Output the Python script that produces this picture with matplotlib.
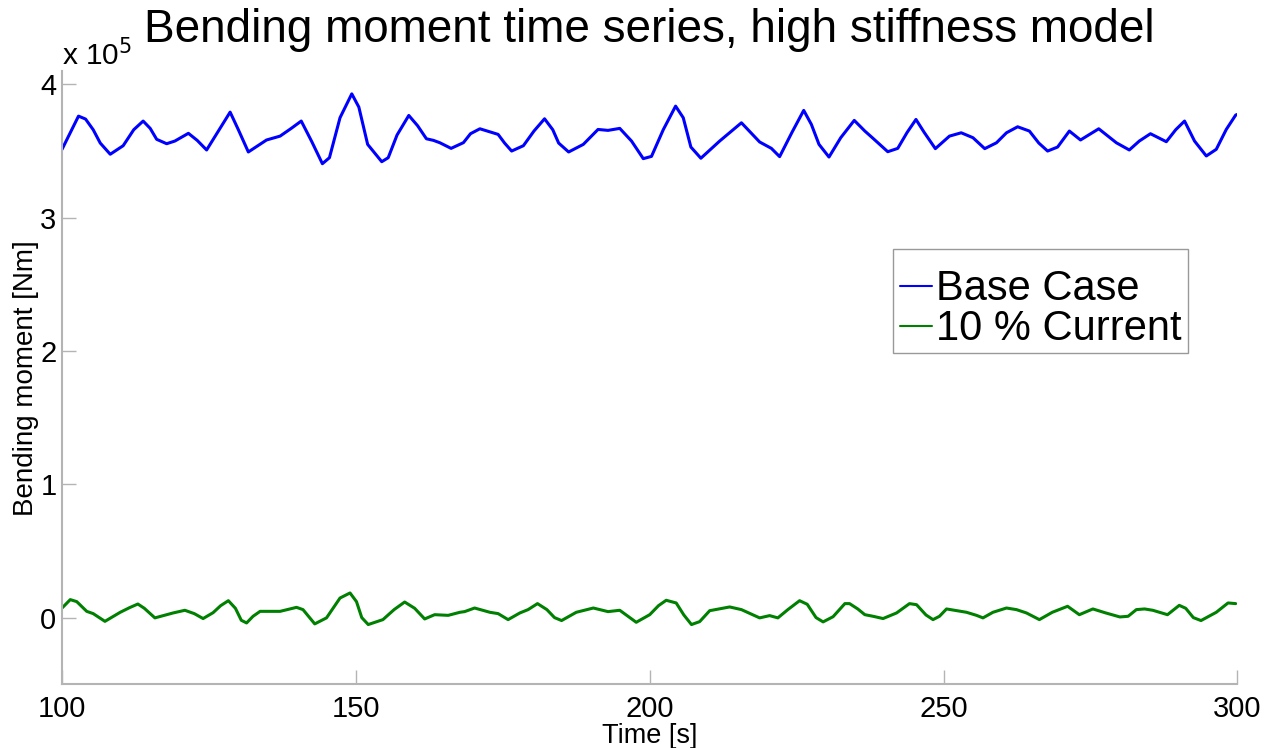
import matplotlib
matplotlib.use("Agg")
import matplotlib.pyplot as plt
from matplotlib.patches import Rectangle
import numpy as np

plt.rcParams['font.family'] = ['Liberation Sans', 'DejaVu Sans']

# Sampled bending moment histories [s], [Nm]
time_base = [100.0, 102.8, 104.0, 105.3, 106.5, 108.2, 110.4, 112.2, 113.8, 115.0,
             116.1, 117.8, 119.2, 121.5, 123.0, 124.6, 126.6, 128.6, 130.0, 131.7,
             134.8, 137.1, 139.0, 140.7, 142.5, 144.3, 145.5, 147.3, 149.3, 150.5,
             152.0, 154.4, 155.5, 157.0, 159.0, 160.5, 162.0, 163.2, 164.3, 166.2,
             168.3, 169.5, 171.1, 174.2, 175.3, 176.5, 178.5, 180.3, 182.1, 183.5,
             184.5, 186.2, 188.7, 191.2, 192.9, 194.9, 196.9, 198.9, 200.3, 202.3,
             204.4, 205.7, 207.0, 208.7, 211.9, 215.6, 218.7, 220.7, 222.1, 224.2,
             226.2, 227.5, 228.8, 230.5, 232.5, 234.8, 236.6, 238.0, 240.5, 242.2,
             243.8, 245.3, 246.7, 248.6, 251.0, 253.0, 255.0, 257.0, 259.0, 260.7,
             262.6, 264.6, 266.2, 267.7, 269.4, 271.4, 273.3, 276.4, 279.4, 281.6,
             283.3, 285.2, 287.9, 289.5, 291.0, 292.7, 294.7, 296.4, 298.1, 299.7,
             300.0]
base_case = [3.513, 3.762, 3.740, 3.660, 3.560, 3.476, 3.540, 3.660, 3.725, 3.670,
             3.588, 3.555, 3.575, 3.633, 3.580, 3.508, 3.650, 3.792, 3.660, 3.493,
             3.583, 3.612, 3.670, 3.725, 3.570, 3.405, 3.450, 3.750, 3.929, 3.830,
             3.550, 3.420, 3.450, 3.620, 3.767, 3.690, 3.592, 3.580, 3.562, 3.520,
             3.563, 3.630, 3.667, 3.625, 3.560, 3.500, 3.540, 3.650, 3.742, 3.660,
             3.560, 3.493, 3.550, 3.662, 3.655, 3.670, 3.575, 3.443, 3.460, 3.660,
             3.837, 3.750, 3.530, 3.446, 3.575, 3.712, 3.568, 3.520, 3.458, 3.640,
             3.805, 3.700, 3.550, 3.455, 3.600, 3.730, 3.650, 3.595, 3.495, 3.520,
             3.640, 3.737, 3.640, 3.518, 3.612, 3.637, 3.600, 3.518, 3.562, 3.637,
             3.682, 3.650, 3.560, 3.500, 3.530, 3.650, 3.583, 3.667, 3.562, 3.508,
             3.575, 3.630, 3.570, 3.660, 3.725, 3.575, 3.463, 3.513, 3.662, 3.770,
             3.775]
base_case = [v * 1e5 for v in base_case]

time_current = [100.0, 101.4, 102.5, 104.2, 105.3, 107.3, 109.9, 111.5, 112.9, 114.0,
                115.8, 118.9, 120.9, 122.5, 124.0, 125.7, 127.0, 128.3, 129.5, 130.5,
                131.4, 132.5, 133.7, 137.1, 139.9, 141.0, 143.0, 145.0, 147.3, 149.0,
                150.1, 151.0, 152.1, 154.6, 156.5, 158.3, 160.0, 161.7, 163.4, 165.7,
                167.7, 168.5, 170.2, 172.8, 174.2, 175.9, 177.9, 179.3, 180.9, 182.5,
                183.8, 185.0, 187.5, 190.4, 192.9, 194.9, 196.3, 197.7, 200.0, 201.5,
                202.8, 204.5, 205.8, 207.1, 208.5, 210.2, 213.6, 215.6, 218.7, 220.4,
                221.8, 223.5, 225.5, 226.8, 228.3, 229.5, 231.2, 233.2, 234.0, 235.4,
                236.6, 238.0, 239.7, 242.0, 244.2, 245.4, 247.0, 248.2, 249.3, 250.5,
                253.9, 255.6, 256.7, 258.4, 260.7, 262.4, 264.1, 266.3, 268.5, 271.1,
                273.1, 275.4, 277.6, 280.0, 281.4, 282.8, 284.2, 285.6, 288.1, 290.1,
                291.2, 292.5, 293.8, 296.4, 298.4, 299.7]
current_10pct = [0.072, 0.135, 0.120, 0.047, 0.030, -0.028, 0.040, 0.075, 0.102, 0.070,
                 -0.002, 0.035, 0.055, 0.030, -0.007, 0.037, 0.090, 0.127, 0.070, -0.020,
                 -0.040, 0.010, 0.047, 0.047, 0.077, 0.060, -0.047, -0.002, 0.147, 0.185,
                 0.120, 0.000, -0.052, -0.015, 0.060, 0.117, 0.070, -0.010, 0.022, 0.017,
                 0.040, 0.045, 0.072, 0.040, 0.030, -0.015, 0.035, 0.060, 0.105, 0.060,
                 0.000, -0.022, 0.040, 0.072, 0.045, 0.055, 0.010, -0.035, 0.022, 0.090,
                 0.130, 0.110, 0.020, -0.052, -0.030, 0.052, 0.080, 0.060, -0.002, 0.015,
                 -0.002, 0.060, 0.127, 0.100, 0.000, -0.032, 0.007, 0.105, 0.105, 0.065,
                 0.022, 0.010, -0.007, 0.035, 0.105, 0.097, 0.020, -0.015, 0.010, 0.065,
                 0.040, 0.017, -0.002, 0.040, 0.072, 0.060, 0.035, -0.015, 0.040, 0.085,
                 0.022, 0.065, 0.035, 0.005, 0.010, 0.060, 0.065, 0.055, 0.022, 0.092,
                 0.070, 0.000, -0.022, 0.040, 0.110, 0.105]
current_10pct = [v * 1e5 for v in current_10pct]

series_labels = ['Base Case', '10 % Current']
x_ticks = [100, 150, 200, 250, 300]
y_ticks = [0, 1, 2, 3, 4]
scale = 1e5

fig = plt.figure(figsize=(12.74, 7.48), dpi=100)
ax = fig.add_axes([0.0487, 0.0852, 0.9226, 0.8198])

ax.plot(time_base, np.array(base_case) / scale, color='#0000ff', lw=2.2,
        solid_joinstyle='round', solid_capstyle='round', label=series_labels[0])
ax.plot(time_current, np.array(current_10pct) / scale, color='#008000', lw=2.2,
        solid_joinstyle='round', solid_capstyle='round', label=series_labels[1])

ax.set_xlim(100, 300)
ax.set_ylim(-0.5, 4.1)
ax.set_xticks(x_ticks)
ax.set_yticks(y_ticks)
ax.set_xticklabels([str(t) for t in x_ticks])
ax.set_yticklabels([str(t) for t in y_ticks])

spine_grey = '#b4b4b4'
for side in ('top', 'right'):
    ax.spines[side].set_visible(False)
for side in ('left', 'bottom'):
    ax.spines[side].set_color(spine_grey)
    ax.spines[side].set_linewidth(1.5)
ax.tick_params(direction='in', length=10, width=1.0, color=spine_grey,
               labelsize=21, labelcolor='black')
ax.tick_params(axis='x', pad=8)
ax.tick_params(axis='y', pad=4)

ax.text(0.5, 1.047, 'Bending moment time series, high stiffness model',
        transform=ax.transAxes, fontsize=33, ha='center', va='baseline')
ax.set_xlabel('Time [s]', fontsize=19.5, labelpad=-0.5)
ax.set_ylabel('Bending moment [Nm]', fontsize=20, labelpad=1)
ax.text(0.0, 1.0098, r'x 10$^{5}$', transform=ax.transAxes, fontsize=21.5,
        ha='left', va='baseline')

# Legend box drawn as a separate frame, entries placed inside it
legend_box = Rectangle((0.7069, 0.5402), 0.2510, 0.1696, transform=ax.transAxes,
                       facecolor='white', edgecolor='#999999', linewidth=1.0,
                       zorder=4)
ax.add_patch(legend_box)
leg = ax.legend(loc='upper left', bbox_to_anchor=(0.7026, 0.6968), fontsize=30,
                handlelength=0.75, handletextpad=0.1, borderpad=0.3,
                labelspacing=0.0, frameon=False, borderaxespad=0)
leg.set_zorder(5)
for line in leg.get_lines():
    line.set_linewidth(1.5)

fig.savefig('out.png', dpi=100)
